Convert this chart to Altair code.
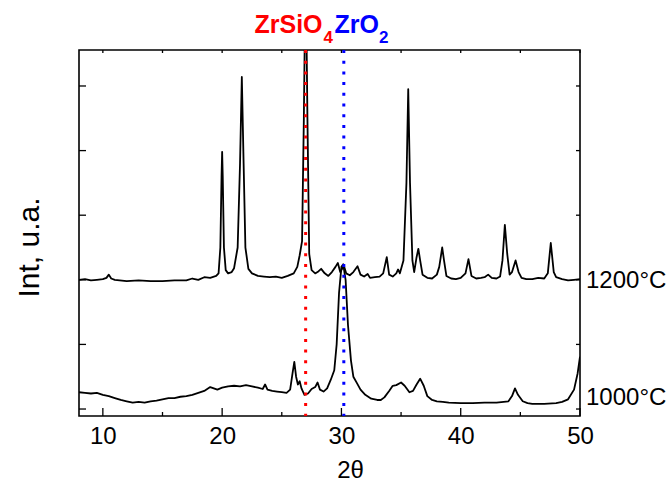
import altair as alt
import pandas as pd

# ---------------- data ----------------
theta_1200 = [8.0, 8.5, 9.0, 9.5, 10.0, 10.3, 10.5, 10.7, 11.0, 12.0, 13.0, 14.0, 15.0, 16.0,
              17.0, 17.5, 18.0, 18.5, 19.0, 19.5, 19.7, 19.85, 19.95, 20.0, 20.05, 20.15, 20.3,
              20.5, 20.8, 21.0, 21.3, 21.5, 21.65, 21.8, 21.95, 22.2, 22.5, 23.0, 23.5, 24.0,
              24.5, 25.0, 25.5, 26.0, 26.3, 26.5, 26.7, 26.85, 27.0, 27.15, 27.3, 27.5, 27.8,
              28.0, 28.3, 28.6, 28.9, 29.2, 29.5, 29.7, 29.9, 30.0, 30.2, 30.4, 30.7, 31.0,
              31.35, 31.6, 31.9, 32.2, 32.4, 32.8, 33.2, 33.5, 33.8, 34.0, 34.3, 34.6, 34.75,
              34.9, 35.2, 35.45, 35.6, 35.75, 35.95, 36.1, 36.3, 36.45, 36.6, 36.8, 37.2, 37.6,
              38.0, 38.2, 38.45, 38.6, 38.8, 39.2, 39.6, 40.0, 40.4, 40.65, 40.9, 41.3, 41.7,
              42.0, 42.3, 42.6, 43.0, 43.3, 43.5, 43.7, 43.9, 44.1, 44.3, 44.6, 44.85, 45.1,
              45.5, 46.0, 46.5, 47.0, 47.3, 47.55, 47.8, 48.0, 48.5, 49.0, 49.5, 50.0]
int_1200 = [2.00, 2.01, 1.99, 2.00, 2.01, 2.03, 2.08, 2.02, 2.00, 1.98, 1.99, 1.98, 1.98, 1.99,
            1.99, 2.02, 2.00, 2.04, 2.03, 2.06, 2.10, 2.50, 3.60, 3.98, 3.60, 2.50, 2.15,
            2.10, 2.12, 2.18, 2.50, 3.80, 5.14, 3.80, 2.50, 2.17, 2.10, 2.06, 2.05, 2.04,
            2.05, 2.03, 2.06, 2.10, 2.20, 2.38, 2.60, 4.50, 7.00, 4.50, 2.40, 2.15, 2.10,
            2.12, 2.17, 2.10, 2.06, 2.12, 2.20, 2.26, 2.12, 2.15, 2.22, 2.10, 2.07, 2.12,
            2.21, 2.08, 2.05, 2.09, 2.03, 2.04, 2.05, 2.10, 2.35, 2.08, 2.05, 2.10, 2.16,
            2.10, 2.30, 3.50, 4.95, 3.50, 2.30, 2.12, 2.35, 2.48, 2.30, 2.08, 2.03, 2.02,
            2.08, 2.20, 2.50, 2.30, 2.06, 2.02, 2.01, 2.03, 2.10, 2.32, 2.06, 2.02, 2.03,
            2.04, 2.08, 2.03, 2.02, 2.05, 2.30, 2.85, 2.40, 2.08, 2.12, 2.30, 2.12, 2.03,
            2.01, 2.01, 2.03, 2.02, 2.10, 2.57, 2.12, 2.04, 2.01, 1.99, 2.00, 2.01]

theta_1000 = [8.0, 8.5, 9.0, 9.5, 10.0, 10.5, 11.0, 11.5, 12.0, 12.5, 13.0, 13.5, 14.0, 14.5,
              15.0, 15.5, 16.0, 16.5, 17.0, 17.5, 18.0, 18.5, 19.0, 19.3, 19.6, 20.0, 20.5,
              21.0, 21.5, 22.0, 22.5, 23.0, 23.4, 23.6, 23.8, 24.2, 24.6, 25.0, 25.4, 25.7,
              25.9, 26.05, 26.2, 26.35, 26.5, 26.65, 26.9, 27.2, 27.5, 27.8, 28.0, 28.2, 28.5,
              28.8, 29.1, 29.4, 29.6, 29.8, 30.0, 30.15, 30.35, 30.55, 30.8, 31.0, 31.3, 31.6,
              32.0, 32.5, 33.0, 33.3, 33.6, 34.0, 34.3, 34.6, 35.0, 35.3, 35.7, 36.0, 36.3,
              36.6, 36.9, 37.2, 37.6, 38.0, 38.5, 39.0, 40.0, 41.0, 42.0, 43.0, 44.0, 44.3,
              44.55, 44.8, 45.2, 45.6, 46.0, 47.0, 48.0, 48.5, 49.0, 49.5, 49.8, 50.0]
int_1000 = [0.26, 0.25, 0.24, 0.25, 0.22, 0.20, 0.17, 0.14, 0.12, 0.10, 0.11, 0.10, 0.12, 0.13,
            0.15, 0.17, 0.17, 0.19, 0.20, 0.22, 0.25, 0.28, 0.34, 0.32, 0.30, 0.33, 0.35,
            0.36, 0.35, 0.37, 0.35, 0.33, 0.31, 0.38, 0.30, 0.28, 0.27, 0.26, 0.25, 0.30,
            0.55, 0.73, 0.50, 0.38, 0.43, 0.32, 0.22, 0.24, 0.31, 0.34, 0.41, 0.30, 0.27,
            0.32, 0.45, 0.60, 1.00, 1.80, 2.20, 2.24, 2.00, 1.30, 0.75, 0.50, 0.40, 0.30,
            0.22, 0.16, 0.14, 0.14, 0.18, 0.28, 0.36, 0.37, 0.41, 0.36, 0.26, 0.28, 0.38,
            0.47, 0.36, 0.20, 0.14, 0.12, 0.11, 0.10, 0.09, 0.09, 0.10, 0.10, 0.12, 0.20,
            0.32, 0.22, 0.12, 0.09, 0.08, 0.08, 0.09, 0.11, 0.15, 0.30, 0.55, 0.81]

x_major = [10, 20, 30, 40, 50]
x_minor = [15, 25, 35, 45]
y_ticks = [0, 1, 2, 3, 4, 5]

phase_theta = [27.0, 30.2]
phase_color = ["#ff0000", "#0000ff"]

sample_labels = ["1200°C", "1000°C"]
sample_label_y = [1.98, 0.17]

# ---------------- tables ----------------
df = pd.concat([
    pd.DataFrame({"theta": theta_1200, "intensity": int_1200, "series": "1200"}),
    pd.DataFrame({"theta": theta_1000, "intensity": int_1000, "series": "1000"}),
])
phase_df = pd.DataFrame({"theta": phase_theta, "color": phase_color})
label_df = pd.DataFrame({"label": sample_labels, "y": sample_label_y})
xmaj_df = pd.DataFrame({"t": x_major})
xall_df = pd.DataFrame({"t": x_major + x_minor})
xmin_df = pd.DataFrame({"t": x_minor})
ytk_df = pd.DataFrame({"v": y_ticks})

W, H = 501, 366
FONT = "Liberation Sans"

xscale = alt.Scale(domain=[8, 50], nice=False, zero=False)
yscale = alt.Scale(domain=[-0.108, 5.557], nice=False, zero=False)

lines = alt.Chart(df).mark_line(color="black", strokeWidth=1.8, clip=True,
                                strokeJoin="round").encode(
    x=alt.X("theta:Q", scale=xscale,
            axis=alt.Axis(title="2θ", values=x_major, ticks=False, tickSize=0, domain=False,
                          grid=False, labelFontSize=24, labelPadding=8, labelFlush=False,
                          labelColor="black", format="d", titleFontSize=24,
                          titleFontWeight="normal", titleColor="black", titleX=271,
                          titleY=61, titleBaseline="alphabetic")),
    y=alt.Y("intensity:Q", scale=yscale,
            axis=alt.Axis(title="Int, u.a.", labels=False, ticks=False, tickSize=0,
                          domain=False, grid=False, titleFontSize=30,
                          titleFontWeight="normal", titleColor="black", titleX=-50,
                          titleY=197, titleAngle=-90, titleAlign="center",
                          titleBaseline="middle")),
    detail="series:N",
)

phase = alt.Chart(phase_df).mark_rule(strokeWidth=3, strokeDash=[3, 7.7]).encode(
    x=alt.X("theta:Q", scale=xscale, axis=None),
    color=alt.Color("color:N", scale=None),
)

tick_style = dict(color="black", strokeWidth=1.3)
bottom_major = alt.Chart(xmaj_df).mark_rule(**tick_style).encode(
    x=alt.X("t:Q", scale=xscale, axis=None), y=alt.value(H), y2=alt.value(H - 8))
bottom_minor = alt.Chart(xmin_df).mark_rule(**tick_style).encode(
    x=alt.X("t:Q", scale=xscale, axis=None), y=alt.value(H), y2=alt.value(H - 4))
top_ticks = alt.Chart(xall_df).mark_rule(**tick_style).encode(
    x=alt.X("t:Q", scale=xscale, axis=None), y=alt.value(0), y2=alt.value(3))
left_ticks = alt.Chart(ytk_df).mark_rule(**tick_style).encode(
    y=alt.Y("v:Q", scale=yscale, axis=None), x=alt.value(0), x2=alt.value(7))
right_ticks = alt.Chart(ytk_df).mark_rule(**tick_style).encode(
    y=alt.Y("v:Q", scale=yscale, axis=None), x=alt.value(W), x2=alt.value(W - 4))

labels = alt.Chart(label_df).mark_text(align="left", baseline="middle", dx=6, fontSize=24,
                                       font=FONT, color="black").encode(
    x=alt.value(W), y=alt.Y("y:Q", scale=yscale, axis=None), text="label:N")

def top_text(txt, xpos, size, color, base, align):
    return alt.Chart(pd.DataFrame({"txt": [txt]})).mark_text(
        align=align, baseline="alphabetic", fontSize=size, fontWeight="bold",
        font=FONT, color=color).encode(
        x=alt.XDatum(xpos, scale=xscale, axis=None), y=alt.value(base), text="txt:N")

t1 = top_text("ZrSiO", 28.42, 25, "#ff0000", -17, "right")
t2 = top_text("4", 28.50, 17, "#ff0000", -7, "left")
t3 = top_text("ZrO", 29.42, 25, "#0000ff", -17, "left")
t4 = top_text("2", 33.15, 17, "#0000ff", -7, "left")

chart = alt.layer(
    lines, phase, bottom_major, bottom_minor, top_ticks, left_ticks, right_ticks,
    labels, t1, t2, t3, t4,
).resolve_axis(x="independent", y="independent").properties(
    width=W, height=H,
    padding={"left": 79, "top": 50, "right": 88, "bottom": 66},
    autosize=alt.AutoSizeParams(type="none"),
    background="white",
).configure(font=FONT).configure_view(stroke="black", strokeWidth=1.6)

chart.save("out.html", embed_options={"renderer": "svg", "actions": False})
